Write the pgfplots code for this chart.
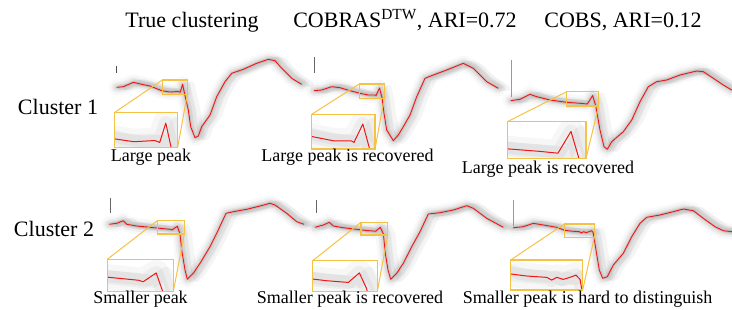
\documentclass[border=0pt]{standalone}
\usepackage{pgfplots}
\pgfplotsset{compat=1.18}
\usepackage{pgfplotstable}
\usepackage{fontspec}
\setmainfont{Liberation Serif}
\definecolor{zoomyel}{RGB}{244,194,68}
\definecolor{meanred}{RGB}{240,22,22}

\pgfplotstableread{
x y
116.7 87.3
123.3 86.7
133.3 82.3
141.7 84.3
150 86
161.7 90.7
170 92
178.3 91.5
180.2 92.3
182.6 84.3
184.7 94.3
188.3 110
190.7 126.7
195 137.7
198.3 136
201.7 126.7
210 115
216.7 96.7
225 81.7
231.7 73.3
243.3 69.3
256.7 63.3
268.3 59.3
275 60.7
281.7 68.3
291.7 78.3
301.7 84.3
}\pA
\pgfplotstableread{
x y
314 90.7
321.7 90
331.7 86.7
340 87.7
350 90.7
360 93.3
368.3 95
375 95
376 95.6
379.5 88
382.1 98
384 113.3
386.7 130
393.3 140.7
398.3 135
403.3 126.7
410 115
416.7 96.7
425 78.3
433.3 75
446.7 70
463.3 63.3
473.3 68.3
486.7 81.7
498.3 88.3
}\pB
\pgfplotstableread{
x y
510.7 100.7
520 99.3
530 94.3
536.7 96.7
550 100
566.7 102.3
580 103.3
587.3 104
592.6 95.5
595.8 106
600 130
604 146.7
607.3 149.3
611.7 141.7
616.7 137.3
623.3 131.7
631.7 120
640 101.7
648.3 86.7
656.7 81.7
666.7 80
680 75
696.7 71
703.3 71.7
713.3 78.3
723.3 85
731.7 90
}\pC
\pgfplotstableread{
x y
109.3 224.3
116.7 223.3
123.3 220.7
126.7 224.3
136.7 226
150 227.3
160 228.3
170 229.3
172 229.9
177.3 226.3
180 234
181.7 250
185 270
187.3 279.3
193.3 273.3
200 263.3
210 246.7
216.7 233.3
226 213.3
233.3 211.7
246.7 209.3
260 206
270 203.3
275 205
286.7 213.3
296.7 221.7
304 224.3
}\pD
\pgfplotstableread{
x y
315 227.3
323.3 225
329.3 222.3
333.3 226
343.3 227.7
356.7 229.3
366.7 230.5
375.7 231.2
380.3 227.3
383.4 234
385.3 253.3
388 270
390.7 279.3
396.7 273.3
403.3 263.3
411.7 246.7
420 231.7
428.3 214
440 212.7
453.3 210
466.7 205.7
473.3 208.3
486.7 218.3
503.3 227.3
}\pE
\pgfplotstableread{
x y
513.3 227.7
523.3 226.7
533.3 223.3
543.3 225
556.7 227.3
564.3 230.2
571 231.1
579.3 231.7
581.4 232.9
583.5 231.7
586.2 232.6
589 231.7
591.5 230.7
593.2 232.6
596 250
599.3 270
602.7 278.3
607.3 276.7
613.3 265
623.3 253.3
631.7 236.7
640 223.3
646.7 217.3
660 215
673.3 211.7
683.3 209
693.3 210.7
703.3 218.3
715 226.7
723.3 230.7
732 231.7
}\pF

\newcommand{\mainband}[1]{%
  \addplot[black, opacity=0.025, line width=16pt, line join=round, line cap=round, forget plot] table {#1};
  \addplot[black, opacity=0.04, line width=11pt, line join=round, line cap=round, forget plot] table {#1};
  \addplot[black, opacity=0.06, line width=7pt, line join=round, line cap=round, forget plot] table {#1};
  \addplot[black, opacity=0.05, line width=6pt, line join=round, line cap=round, xshift=4pt, forget plot] table {#1};
  \addplot[black, opacity=0.04, line width=6pt, line join=round, line cap=round, xshift=9pt, forget plot] table {#1};
  \addplot[black, opacity=0.08, line width=3pt, line join=round, line cap=round, forget plot] table {#1};
  \addplot[meanred, line width=0.9pt, line join=round, forget plot] table {#1};
}
\newcommand{\insetband}[1]{%
  \addplot[black, opacity=0.03, line width=26pt, line join=round, line cap=round, forget plot] table {#1};
  \addplot[black, opacity=0.04, line width=14pt, line join=round, line cap=round, forget plot] table {#1};
  \addplot[black, opacity=0.04, line width=12pt, line join=round, line cap=round, xshift=10pt, forget plot] table {#1};
  \addplot[meanred, line width=1pt, line join=round, forget plot] table {#1};
}
\pgfplotsset{
  insetax/.style={anchor=north west, scale only axis, enlargelimits=false,
    y dir=reverse, xtick=\empty, ytick=\empty, axis on top,
    axis line style={zoomyel, line width=1.3pt},
    axis background/.style={fill=white}},
}
\newcommand{\zoombox}[8]{%
  \draw[zoomyel, line width=1.3pt] (axis cs:#1,#2) rectangle (axis cs:#3,#4);
  \draw[zoomyel, line width=1pt] (axis cs:#1,#2) -- (axis cs:#5,#6);
  \draw[zoomyel, line width=1pt] (axis cs:#3,#4) -- (axis cs:#7,#8);
}

\begin{document}
\begin{tikzpicture}
\begin{axis}[at={(0,0)}, anchor=north west, scale only axis, width=732pt, height=310pt,
  xmin=0, xmax=732, ymin=0, ymax=310, y dir=reverse, enlargelimits=false,
  hide axis, clip=false]
  \mainband{\pA}
  \mainband{\pB}
  \mainband{\pC}
  \mainband{\pD}
  \mainband{\pE}
  \mainband{\pF}
  \draw[black!70, line width=0.8pt] (axis cs:116.7,66) -- (axis cs:116.7,73);
  \draw[black!60, line width=0.8pt] (axis cs:314,57) -- (axis cs:314,73);
  \draw[black!40, line width=0.8pt] (axis cs:511.7,60) -- (axis cs:511.7,97);
  \draw[black!60, line width=0.8pt] (axis cs:110,198) -- (axis cs:110,213);
  \draw[black!60, line width=0.8pt] (axis cs:316,200) -- (axis cs:316,213);
  \draw[black!40, line width=0.8pt] (axis cs:513.3,200) -- (axis cs:513.3,226);
  \zoombox{162.3}{80}{187.3}{94.3}{114.3}{112.7}{177.7}{147.3}
  \zoombox{359.3}{84}{384.3}{98.3}{311.7}{114.3}{375}{149}
  \zoombox{566.7}{91.7}{598.7}{106}{507.3}{121.7}{586}{158.3}
  \zoombox{157.3}{220.7}{184.3}{234}{107.3}{259.3}{173.3}{291.7}
  \zoombox{361}{222.3}{387.7}{235}{312.7}{260.7}{377.3}{291.7}
  \zoombox{564.3}{224}{594.3}{237.3}{510.7}{260}{582.7}{290}
\end{axis}

\begin{axis}[insetax, at={(114.3pt,-112.7pt)}, width=63.4pt, height=34.6pt,
  xmin=162.3, xmax=187.3, ymin=80, ymax=94.3]
  \insetband{\pA}
\end{axis}
\begin{axis}[insetax, at={(311.7pt,-114.3pt)}, width=63.3pt, height=34.7pt,
  xmin=359.3, xmax=384.3, ymin=84, ymax=98.3]
  \insetband{\pB}
\end{axis}
\begin{axis}[insetax, at={(507.3pt,-121.7pt)}, width=78.7pt, height=36.6pt,
  xmin=566.7, xmax=598.7, ymin=91.7, ymax=106]
  \insetband{\pC}
\end{axis}
\begin{axis}[insetax, at={(107.3pt,-259.3pt)}, width=66pt, height=32.4pt,
  xmin=157.3, xmax=184.3, ymin=220.7, ymax=234]
  \insetband{\pD}
\end{axis}
\begin{axis}[insetax, at={(312.7pt,-260.7pt)}, width=64.6pt, height=31pt,
  xmin=361, xmax=387.7, ymin=222.3, ymax=235]
  \insetband{\pE}
\end{axis}
\begin{axis}[insetax, at={(510.7pt,-260pt)}, width=72pt, height=30pt,
  xmin=564.3, xmax=594.3, ymin=224, ymax=237.3]
  \insetband{\pF}
\end{axis}

\begin{scope}[every node/.style={anchor=base, inner sep=0pt}]
\node[font=\fontsize{22}{26}\selectfont] at (192pt,-27.3pt) {True clustering};
\node[font=\fontsize{22}{26}\selectfont] at (405pt,-27.3pt) {COBRAS\textsuperscript{DTW}, ARI=0.72};
\node[font=\fontsize{22}{26}\selectfont] at (623pt,-27.3pt) {COBS, ARI=0.12};
\node[font=\fontsize{22}{26}\selectfont] at (58pt,-115pt) {Cluster 1};
\node[font=\fontsize{22}{26}\selectfont] at (54pt,-236.7pt) {Cluster 2};
\node[font=\fontsize{18}{21}\selectfont] at (151pt,-161.7pt) {Large peak};
\node[font=\fontsize{18}{21}\selectfont] at (347.5pt,-161.7pt) {Large peak is recovered};
\node[font=\fontsize{18}{21}\selectfont] at (548pt,-174pt) {Large peak is recovered};
\node[font=\fontsize{18}{21}\selectfont] at (140.5pt,-304pt) {Smaller peak};
\node[font=\fontsize{18}{21}\selectfont] at (350pt,-304pt) {Smaller peak is recovered};
\node[font=\fontsize{18}{21}\selectfont] at (587.5pt,-304pt) {Smaller peak is hard to distinguish};
\end{scope}
\pgfresetboundingbox
\path[use as bounding box] (0,0) rectangle (732pt,-310pt);
\end{tikzpicture}
\end{document}
